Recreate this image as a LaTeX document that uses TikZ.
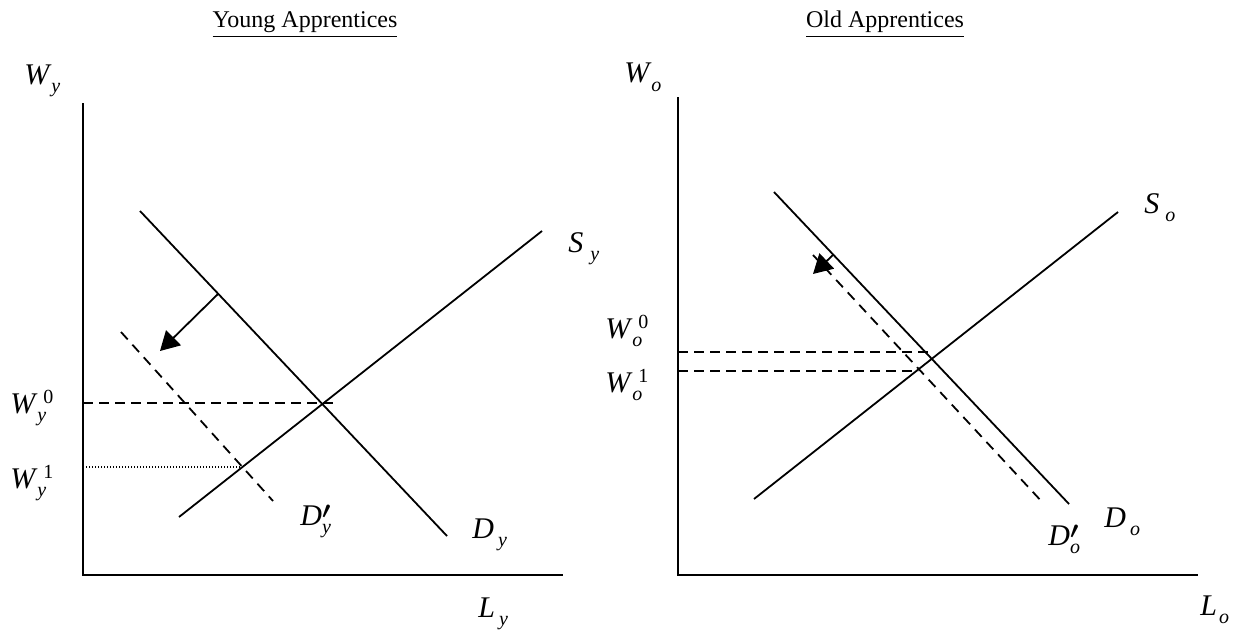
\documentclass[tikz,border=0pt]{standalone}
\usepackage{fontspec}
\setmainfont{Liberation Serif}
\usetikzlibrary{arrows.meta}
\newcommand{\ml}[4]{{\fontsize{15}{18}\selectfont\itshape #1}\kern#4\rlap{\raisebox{-4.2pt}{\fontsize{10}{12}\selectfont\itshape #2}}\kern3pt\raisebox{4.7pt}{\fontsize{10}{12}\selectfont #3}}
\newcommand{\mlp}[2]{{\fontsize{15}{18}\selectfont\itshape #1}\rlap{\raisebox{3.5pt}{\fontsize{13}{15}\selectfont\boldmath$\prime$}}\raisebox{-4.2pt}{\fontsize{10}{12}\selectfont\itshape #2}}
\begin{document}
\begin{tikzpicture}[x=0.5pt,y=-0.5pt,
  axis/.style={line width=1.2pt},
  curve/.style={line width=0.9pt},
  shifted/.style={line width=0.9pt, dash pattern=on 5pt off 3.5pt},
  guide/.style={line width=0.8pt, dash pattern=on 5pt off 3pt},
  dotguide/.style={line width=0.75pt, dash pattern=on 0.6pt off 0.9pt},
  shiftarrow/.style={line width=0.9pt, -{Triangle[length=9.5pt,width=10.5pt]}},
  lab/.style={inner sep=0pt, anchor=base west},
  ttl/.style={inner sep=0pt, anchor=base, font=\fontsize{12}{14}\selectfont}]
\useasboundingbox (0,0) rectangle (1234,631);
% titles
\node[ttl] (t1) at (305,28) {\underline{Young Apprentices}};
\node[ttl] (t2) at (885,28) {\underline{Old Apprentices}};
% ---------- left panel ----------
\coordinate (LT) at (83,103);
\coordinate (LO) at (83,575);
\coordinate (LR) at (563,575);
\draw[axis] (LT) -- (LO) -- (LR);
\coordinate (Sy1) at (179,517); \coordinate (Sy2) at (542,231);
\coordinate (Dy1) at (140,211); \coordinate (Dy2) at (447,536);
\coordinate (Dpy1) at (121,332); \coordinate (Dpy2) at (273,501);
\draw[curve] (Sy1) -- (Sy2);
\draw[curve] (Dy1) -- (Dy2);
\draw[shifted] (Dpy1) -- (Dpy2);
\coordinate (Ay1) at (218,294); \coordinate (Ay2) at (160,351);
\draw[shiftarrow] (Ay1) -- (Ay2);
\coordinate (Gy0a) at (83,403); \coordinate (Gy0b) at (333,403);
\coordinate (Gy1a) at (83,467); \coordinate (Gy1b) at (243,467);
\draw[guide] (Gy0a) -- (Gy0b);
\draw[dotguide] (Gy1a) -- (Gy1b);
\node[lab] (wy) at (24,84) {\ml{W}{y}{}{1pt}};
\node[lab] (wy0) at (10,413) {\ml{W}{y}{0}{1pt}};
\node[lab] (wy1) at (10,488) {\ml{W}{y}{1}{1pt}};
\node[lab] (sy) at (568,252) {\ml{S}{y}{}{3.5pt}};
\node[lab] (dy) at (472,538) {\ml{D}{y}{}{2pt}};
\node[lab] (dpy) at (300,525) {\mlp{D}{y}};
\node[lab] (ly) at (478,617) {\ml{L}{y}{}{2pt}};
% ---------- right panel ----------
\coordinate (RT) at (678,97);
\coordinate (RO) at (678,575);
\coordinate (RR) at (1198,575);
\draw[axis] (RT) -- (RO) -- (RR);
\coordinate (So1) at (754,499); \coordinate (So2) at (1118,212);
\coordinate (Do1) at (774,192); \coordinate (Do2) at (1069,504);
\coordinate (Dpo1) at (813,255); \coordinate (Dpo2) at (1044,504);
\draw[curve] (So1) -- (So2);
\draw[curve] (Do1) -- (Do2);
\draw[shifted] (Dpo1) -- (Dpo2);
\coordinate (Ao1) at (833,255); \coordinate (Ao2) at (813,274);
\draw[shiftarrow] (Ao1) -- (Ao2);
\coordinate (Go0a) at (678,352); \coordinate (Go0b) at (928,352);
\coordinate (Go1a) at (678,371); \coordinate (Go1b) at (918,371);
\draw[guide] (Go0a) -- (Go0b);
\draw[guide] (Go1a) -- (Go1b);
\node[lab] (wo) at (624,83) {\ml{W}{o}{}{1pt}};
\node[lab] (wo0) at (605,338) {\ml{W}{o}{0}{1pt}};
\node[lab] (wo1) at (605,392) {\ml{W}{o}{1}{1pt}};
\node[lab] (so) at (1144,213) {\ml{S}{o}{}{3pt}};
\node[lab] (do) at (1104,527) {\ml{D}{o}{}{2pt}};
\node[lab] (dpo) at (1048,545) {\mlp{D}{o}};
\node[lab] (lo) at (1200,615) {\ml{L}{o}{}{1pt}};
\end{tikzpicture}
\end{document}
